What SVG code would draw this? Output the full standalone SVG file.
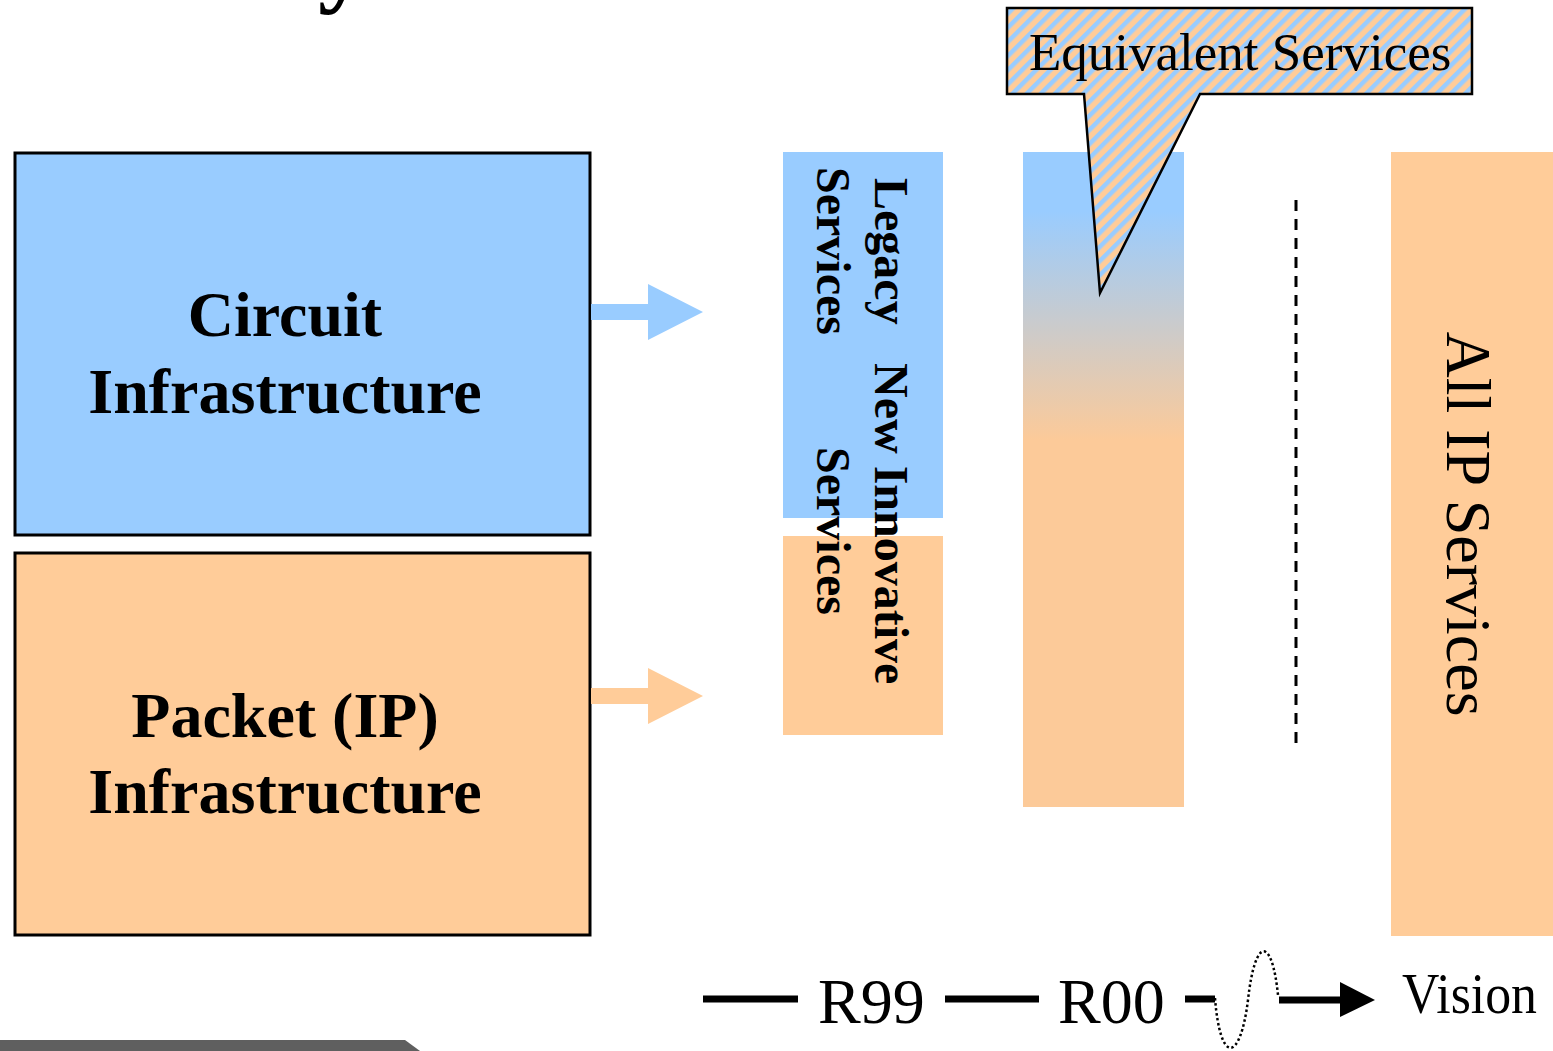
<svg xmlns="http://www.w3.org/2000/svg" width="1553" height="1051" viewBox="0 0 1553 1051">
<style>
.blue{fill:#99CCFF}
.orange{fill:#FFCC99}
.box{stroke:#000;stroke-width:3}
.bold{font-family:"Liberation Serif","Times New Roman",serif;font-weight:bold;fill:#000}
.reg{font-family:"Liberation Serif","Times New Roman",serif;fill:#000}
.tl{stroke:#000;stroke-width:7;fill:none}
</style>
<defs>
<pattern id="stripes" width="10" height="10" patternUnits="userSpaceOnUse" patternTransform="rotate(45)">
<rect width="10" height="10" fill="#FFCC99"/>
<rect width="4.5" height="10" fill="#99CCFF"/>
</pattern>
<linearGradient id="fade" x1="0" y1="0" x2="0" y2="1">
<stop offset="0.09" stop-color="#99CCFF"/>
<stop offset="0.44" stop-color="#FCCA99"/>
</linearGradient>
</defs>
<rect width="1553" height="1051" fill="#fff"/>
<text class="bold" x="318" y="-6" font-size="100">y</text>
<polygon points="0,1040 405,1040 420,1051 0,1051" fill="#5f5f5f"/>

<g id="circuit">
<rect class="blue box" x="15" y="153" width="575" height="382"/>
<text class="bold" x="285" y="336" font-size="64" text-anchor="middle">Circuit</text>
<text class="bold" x="285" y="413" font-size="64" text-anchor="middle">Infrastructure</text>
</g>
<g id="packet">
<rect class="orange box" x="15" y="553" width="575" height="382"/>
<text class="bold" x="285" y="737" font-size="64" text-anchor="middle">Packet (IP)</text>
<text class="bold" x="285" y="813" font-size="64" text-anchor="middle">Infrastructure</text>
</g>

<g id="services-now">
<rect class="blue" x="783" y="152" width="160" height="366"/>
<rect class="orange" x="783" y="536" width="160" height="199"/>
<text class="bold" font-size="48" transform="translate(875,178) rotate(90)">Legacy</text>
<text class="bold" font-size="48" transform="translate(817,167) rotate(90)">Services</text>
<text class="bold" font-size="48" transform="translate(875,363) rotate(90)">New Innovative</text>
<text class="bold" font-size="48" transform="translate(817,447) rotate(90)">Services</text>
</g>

<g id="r00-column">
<rect x="1023" y="152" width="161" height="655" fill="url(#fade)"/>
</g>

<g id="divider">
<line x1="1296" y1="200" x2="1296" y2="745" stroke="#000" stroke-width="3" stroke-dasharray="11 8"/>
</g>

<g id="all-ip">
<rect class="orange" x="1391" y="152" width="162" height="784"/>
<text class="reg" font-size="64" text-anchor="middle" transform="translate(1447,524) rotate(90)">All IP Services</text>
</g>

<g id="callout">
<path d="M1007,8 H1472 V94 H1200 L1100,293 L1084,94 H1007 Z" fill="url(#stripes)" stroke="#000" stroke-width="2.5" stroke-linejoin="miter"/>
<text class="reg" x="1029" y="70" font-size="53">Equivalent Services</text>
</g>

<g id="connectors">
<polygon class="blue" points="591,304 648,304 648,284 703,312 648,340 648,320 591,320"/>
<polygon class="orange" points="591,688 648,688 648,668 703,696 648,724 648,704 591,704"/>
<line class="tl" x1="703" y1="999" x2="798" y2="999"/>
<line class="tl" x1="945" y1="999" x2="1039" y2="999"/>
<polyline class="tl" points="1185,999 1215,999"/>
<path d="M1215,998 C1220,1064 1240,1064 1248,1000 C1255,936 1272,936 1278,995" fill="none" stroke="#000" stroke-width="2.5" stroke-dasharray="2.5 2.5"/>
<line class="tl" x1="1279" y1="1000" x2="1342" y2="1000"/>
<polygon points="1340,982 1375,1000 1340,1017" fill="#000"/>
</g>

<g id="timeline-labels">
<text class="reg" x="1402" y="1013" font-size="56" textLength="135" lengthAdjust="spacingAndGlyphs">Vision</text>
<text class="reg" x="818" y="1023" font-size="64">R99</text>
<text class="reg" x="1058" y="1023" font-size="64">R00</text>
</g>
</svg>
